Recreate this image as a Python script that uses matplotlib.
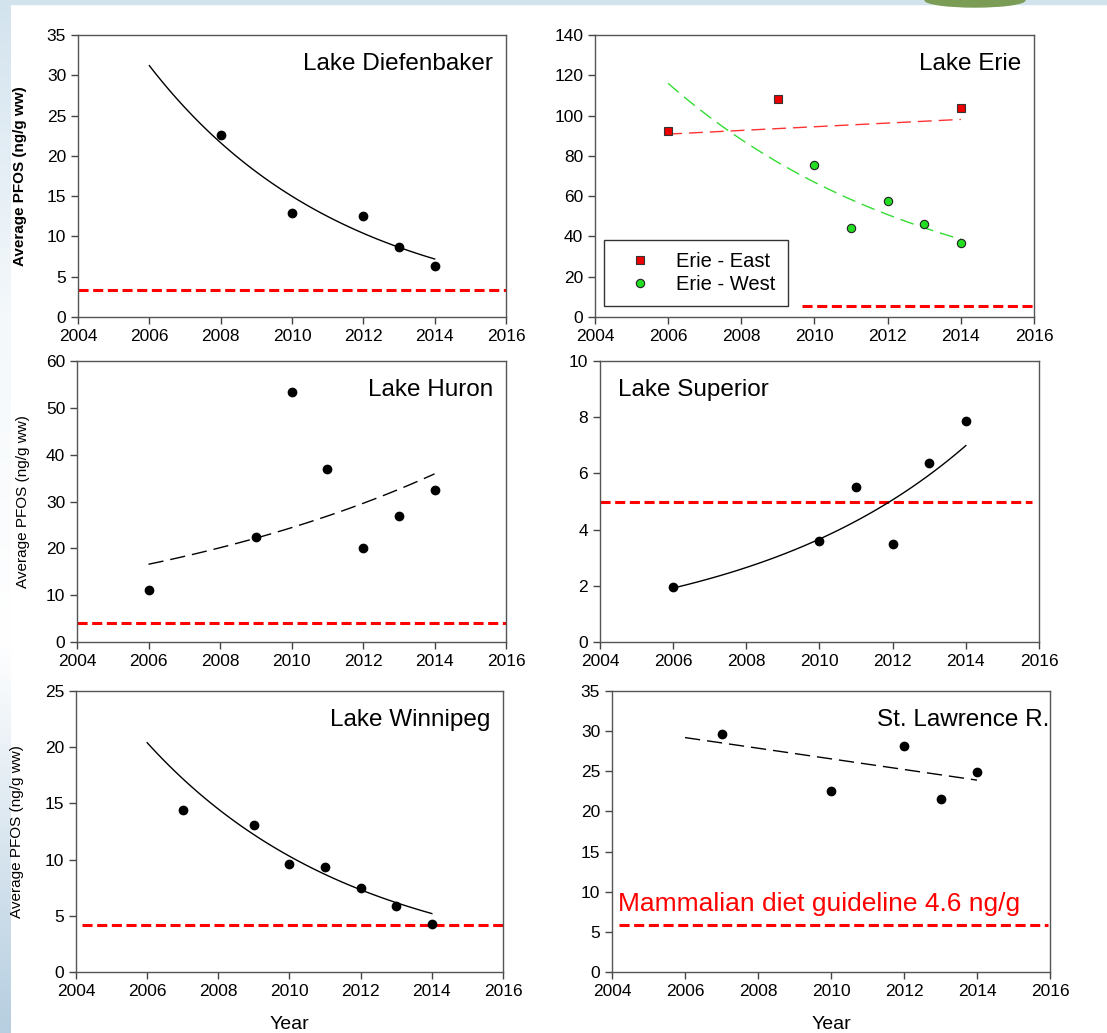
import numpy as np
import matplotlib
matplotlib.use("Agg")
import matplotlib.pyplot as plt
from matplotlib.colors import LinearSegmentedColormap
from matplotlib.patches import Rectangle, Ellipse

plt.rcParams["font.family"] = ["Liberation Sans", "DejaVu Sans"]

# --- data ---
years_dief = [2008, 2010, 2012, 2013, 2014]
pfos_dief = [22.6, 12.9, 12.5, 8.7, 6.3]
fit_dief = [31.2, 7.2]          # exponential fit, value at 2006 and 2014

years_erie_east = [2006, 2009, 2014]
pfos_erie_east = [92.1, 108.2, 103.9]
fit_erie_east = [90.8, 98.1]    # linear fit

years_erie_west = [2010, 2011, 2012, 2013, 2014]
pfos_erie_west = [75.4, 44.2, 57.8, 46.4, 36.9]
fit_erie_west = [116.0, 38.6]   # exponential fit

years_huron = [2006, 2009, 2010, 2011, 2012, 2013, 2014]
pfos_huron = [11.1, 22.4, 53.4, 37.0, 20.1, 26.9, 32.5]
fit_huron = [16.6, 35.9]

years_sup = [2006, 2010, 2011, 2012, 2013, 2014]
pfos_sup = [1.96, 3.61, 5.53, 3.49, 6.37, 7.88]
fit_sup = [1.92, 6.99]

years_winn = [2007, 2009, 2010, 2011, 2012, 2013, 2014]
pfos_winn = [14.4, 13.05, 9.64, 9.32, 7.51, 5.83, 4.29]
fit_winn = [20.4, 5.2]

years_stl = [2007, 2010, 2012, 2013, 2014]
pfos_stl = [29.7, 22.6, 28.1, 21.6, 24.9]
fit_stl = [29.2, 23.9]          # linear fit

fit_years = [2006, 2014]
guideline = [3.3, 5.6, 4.1, 4.98, 4.14, 5.8]
guide_span = [(0, 1), (0.4715, 1), (0, 1), (0, 0.985), (0.014, 1), (0.016, 0.995)]
ymax = [35, 140, 60, 10, 25, 35]
ystep = [5, 20, 10, 2, 5, 5]
titles = ["Lake Diefenbaker", "Lake Erie", "Lake Huron", "Lake Superior",
          "Lake Winnipeg", "St. Lawrence R."]
ylabel = "Average PFOS (ng/g ww)"
note = "Mammalian diet guideline 4.6 ng/g"

W, H = 1107, 1033
fig = plt.figure(figsize=(W / 100, H / 100), dpi=100)
fig.patch.set_facecolor("white")

# slide decoration: light blue strips
strip_cmap = LinearSegmentedColormap.from_list(
    "strip", [(0, "#d3e3ee"), (0.3, "#f4f8fb"), (0.62, "#ffffff"), (1, "#b6cee0")])
bg = fig.add_axes([0, 0, 11 / W, 1], zorder=-5)
bg.imshow(np.linspace(0, 1, 256).reshape(-1, 1), aspect="auto", cmap=strip_cmap,
          extent=[0, 1, 0, 1])
bg.axis("off")
fig.patches.append(Rectangle((0, 1 - 4 / H), 1, 4 / H, transform=fig.transFigure,
                             color="#d3e3ee", zorder=-4))
fig.patches.append(Ellipse((975 / W, 1), 100 / W, 14 / H, transform=fig.transFigure,
                           color="#7b9c55", zorder=-3))

# axes boxes in pixels: left, top, right, bottom
boxes = [(78, 35, 506, 317), (595, 35, 1034, 317),
         (77, 361, 506, 642), (600, 361, 1039, 642),
         (76, 691, 503, 972), (612, 691, 1050, 972)]
axes = []
for (l, t, r, b) in boxes:
    ax = fig.add_axes([l / W, (H - b) / H, (r - l) / W, (b - t) / H])
    axes.append(ax)


def exp_curve(y0, y1):
    xs = np.linspace(fit_years[0], fit_years[1], 100)
    k = np.log(y1 / y0) / (fit_years[1] - fit_years[0])
    return xs, y0 * np.exp(k * (xs - fit_years[0]))


def dots(ax, x, y):
    ax.plot(x, y, "o", color="black", ms=6, zorder=5)


for i, ax in enumerate(axes):
    ax.set_xlim(2004, 2016)
    ax.set_ylim(0, ymax[i])
    ax.set_xticks(range(2004, 2017, 2))
    ax.set_yticks(np.arange(0, ymax[i] + 0.1, ystep[i]))
    ax.tick_params(direction="out", length=5, width=1, labelsize=12.5,
                   color="#444444", top=False, right=False)
    for s in ax.spines.values():
        s.set_color("#555555")
        s.set_linewidth(1)
    ax.axhline(guideline[i], xmin=guide_span[i][0], xmax=guide_span[i][1],
               color="#ff0000", lw=2.2, dashes=(3.3, 1.5), zorder=2)

TS = 17.5

# Diefenbaker
ax = axes[0]
xs, ys = exp_curve(*fit_dief)
ax.plot(xs, ys, color="black", lw=1)
dots(ax, years_dief, pfos_dief)
ax.text(0.97, 0.935, titles[0], transform=ax.transAxes, ha="right", va="top", fontsize=TS)
ax.set_ylabel(ylabel, fontsize=11, fontweight="bold")
ax.yaxis.set_label_coords(-0.119, 0.5)

# Erie
ax = axes[1]
ax.plot(fit_years, fit_erie_east, color="#ff3333", lw=1, dashes=(10, 5))
xs, ys = exp_curve(*fit_erie_west)
ax.plot(xs, ys, color="#33dd33", lw=1, dashes=(10, 5))
ax.plot(years_erie_east, pfos_erie_east, "s", color="#ee0000", mec="#333333",
        mew=0.8, ms=6, zorder=5, label="Erie - East")
ax.plot(years_erie_west, pfos_erie_west, "o", color="#22dd22", mec="#222222",
        mew=0.8, ms=6, zorder=5, label="Erie - West")
ax.text(0.97, 0.935, titles[1], transform=ax.transAxes, ha="right", va="top", fontsize=TS)
leg = ax.legend(loc="lower left", bbox_to_anchor=(0.02, 0.04), borderaxespad=0,
                fontsize=14.5, frameon=True, fancybox=False, handlelength=2.4,
                handletextpad=0.6, borderpad=0.6, labelspacing=0.2, framealpha=1)
leg.get_frame().set_edgecolor("#333333")
leg.get_frame().set_linewidth(1)
leg.set_zorder(10)

# Huron
ax = axes[2]
ax.plot(np.linspace(2006, 2014, 100), exp_curve(*fit_huron)[1], color="black", lw=1,
        dashes=(11, 5))
dots(ax, years_huron, pfos_huron)
ax.text(0.97, 0.935, titles[2], transform=ax.transAxes, ha="right", va="top", fontsize=TS)
ax.set_ylabel(ylabel, fontsize=11)
ax.yaxis.set_label_coords(-0.11, 0.5)

# Superior
ax = axes[3]
xs, ys = exp_curve(*fit_sup)
ax.plot(xs, ys, color="black", lw=1)
dots(ax, years_sup, pfos_sup)
ax.text(0.04, 0.935, titles[3], transform=ax.transAxes, ha="left", va="top", fontsize=TS)

# Winnipeg
ax = axes[4]
xs, ys = exp_curve(*fit_winn)
ax.plot(xs, ys, color="black", lw=1)
dots(ax, years_winn, pfos_winn)
ax.text(0.97, 0.935, titles[4], transform=ax.transAxes, ha="right", va="top", fontsize=TS)
ax.set_ylabel(ylabel, fontsize=11)
ax.yaxis.set_label_coords(-0.122, 0.5)
ax.set_xlabel("Year", fontsize=14)
ax.xaxis.set_label_coords(0.5, -0.155)

# St. Lawrence
ax = axes[5]
ax.plot(fit_years, fit_stl, color="black", lw=1, dashes=(11, 5))
dots(ax, years_stl, pfos_stl)
ax.text(0.998, 0.935, titles[5], transform=ax.transAxes, ha="right", va="top", fontsize=TS)
ax.text(2004.17, 7.66, note, color="#ff0000", fontsize=19, ha="left", va="baseline")
ax.set_xlabel("Year", fontsize=14)
ax.xaxis.set_label_coords(0.5, -0.155)

fig.savefig("out.png", dpi=100)
